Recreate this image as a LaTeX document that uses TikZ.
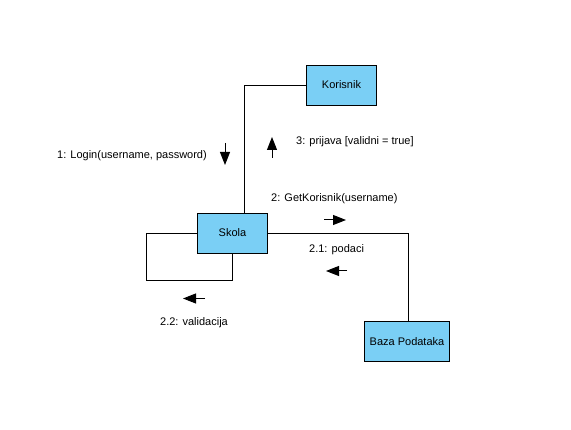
\documentclass[tikz,border=0pt]{standalone}
\usepackage{fontspec}
\setmainfont{Liberation Sans}
\usepackage{xcolor}
\definecolor{boxblue}{RGB}{122,207,245}
\usetikzlibrary{arrows.meta,positioning}
\tikzset{
    x=1pt,y=-1pt,line width=0.8pt,
    obj/.style ={rectangle, draw, fill=boxblue, minimum width=70pt, minimum height=40pt, inner sep=0pt, font=\fontsize{11}{13}\selectfont},
    msg/.style ={-{Triangle[length=13pt,width=10pt]}, line width=1pt},
    el/.style = {inner sep=0pt, font=\fontsize{11}{13}\selectfont}
}
\begin{document}
\begin{tikzpicture}
      \useasboundingbox (0,0) rectangle (571,430);
      \node[obj] (Korisnik) at (341.5,85) {Korisnik};
      \node[obj] (Skola) at (232.5,233) {Skola};
      \node[obj, minimum width=85pt] (Baza) at (407,341.5) {Baza Podataka};
      \coordinate (loop) at (146,280);

      % links
      \draw ([xshift=11.5pt]Skola.north) |- (Korisnik.west);
      \draw (Skola.east) -| ([xshift=1pt]Baza.north);
      \draw (Skola.west) -| (loop) -| (Skola.south);

      % messages
      \draw[msg] (225,143) -- (225,165);
      \node[el, anchor=east] (login) at (207,156) {1: Login(username, password)};
      \draw[msg] (272,158) -- (272,137);
      \node[el, anchor=west] (prijava) at (296,142) {3: prijava [validni = true]};
      \draw[msg] (324,220) -- (346,220);
      \node[el, anchor=west] (get) at (271,198.5) {2: GetKorisnik(username)};
      \draw[msg] (347,271) -- (326,271);
      \node[el, anchor=west] (podaci) at (309,250) {2.1: podaci};
      \draw[msg] (205,298.5) -- (183,298.5);
      \node[el, anchor=west] (valid) at (160,323) {2.2: validacija};
\end{tikzpicture}
\end{document}
